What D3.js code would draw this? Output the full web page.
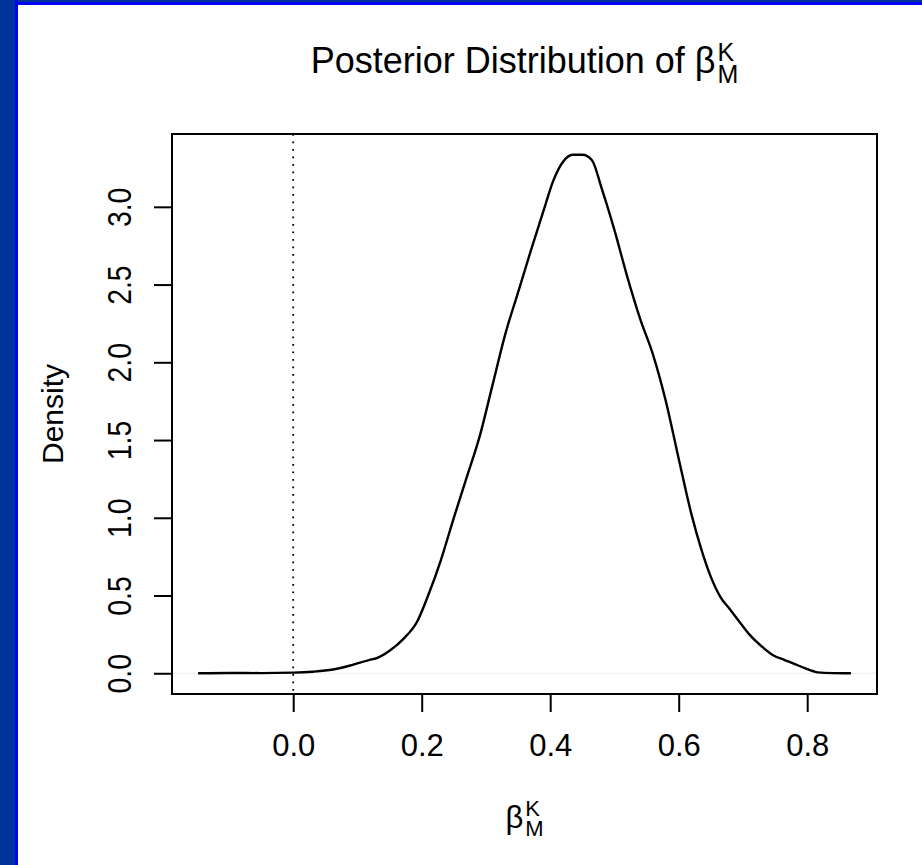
<!DOCTYPE html>
<html>
<head>
<meta charset="utf-8">
<script src="https://cdnjs.cloudflare.com/ajax/libs/d3/7.8.5/d3.min.js"></script>
<style>
  body { margin: 0; background: #ffffff; }
  svg text { font-family: "Liberation Sans", Arial, Helvetica, sans-serif; fill: #000; }
</style>
</head>
<body>
<div id="chart"></div>
<script>
// density estimate (x value, density)
var betaValues = [-0.148, -0.10, -0.05, 0.00, 0.03, 0.062, 0.089, 0.104, 0.118, 0.130, 0.151, 0.172, 0.193,
  0.210, 0.230, 0.250, 0.270, 0.290, 0.310, 0.330, 0.350, 0.370, 0.390, 0.405, 0.420, 0.435, 0.450,
  0.465, 0.480, 0.500, 0.520, 0.540, 0.560, 0.580, 0.600, 0.620, 0.635, 0.650, 0.665, 0.680, 0.693,
  0.711, 0.730, 0.747, 0.765, 0.778, 0.795, 0.816, 0.840, 0.868];
var densityValues = [0.000, 0.002, 0.001, 0.004, 0.010, 0.024, 0.050, 0.069, 0.085, 0.097, 0.148, 0.223, 0.333,
  0.50, 0.73, 1.00, 1.26, 1.52, 1.85, 2.18, 2.45, 2.72, 2.98, 3.17, 3.29, 3.335, 3.335,
  3.30, 3.12, 2.85, 2.55, 2.28, 2.05, 1.75, 1.38, 1.02, 0.80, 0.62, 0.49, 0.41, 0.34,
  0.245, 0.17, 0.116, 0.085, 0.064, 0.035, 0.006, 0.001, 0.000];
var xTicks = [0.0, 0.2, 0.4, 0.6, 0.8];
var yTicks = [0.0, 0.5, 1.0, 1.5, 2.0, 2.5, 3.0];
var refLine = 0;

var width = 922, height = 865;
var plotLeft = 172, plotRight = 877, plotTop = 134, plotBottom = 694;

var svg = d3.select("#chart").append("svg")
  .attr("width", width)
  .attr("height", height);

// slide frame
svg.append("rect").attr("x", 0).attr("y", 0).attr("width", width).attr("height", height).attr("fill", "#ffffff");
svg.append("rect").attr("x", 0).attr("y", 0).attr("width", width).attr("height", 5).attr("fill", "#0000ff");
svg.append("rect").attr("x", 0).attr("y", 0).attr("width", width).attr("height", 2).attr("fill", "#003399");
svg.append("rect").attr("x", 0).attr("y", 0).attr("width", 18).attr("height", height).attr("fill", "#0000ff");
svg.append("rect").attr("x", 0).attr("y", 0).attr("width", 15).attr("height", height).attr("fill", "#003399");

var points = betaValues.map(function(d, i) { return [d, densityValues[i]]; });

// R style 4% padding of the ranges
var xr = d3.extent(betaValues), xpad = (xr[1] - xr[0]) * 0.04;
var yr = [0, d3.max(densityValues)], ypad = (yr[1] - yr[0]) * 0.04;

var xScale = d3.scaleLinear()
  .domain([xr[0] - xpad, xr[1] + xpad])
  .range([plotLeft, plotRight]);
var yScale = d3.scaleLinear()
  .domain([yr[0] - ypad, yr[1] + ypad])
  .range([plotBottom, plotTop]);

// faint zero line
svg.append("line")
  .attr("x1", plotLeft).attr("x2", plotRight)
  .attr("y1", yScale(0)).attr("y2", yScale(0))
  .attr("stroke", "#ececec")
  .attr("stroke-width", 1);

// dotted reference line
svg.append("line")
  .attr("x1", xScale(refLine)).attr("x2", xScale(refLine))
  .attr("y1", plotTop).attr("y2", plotBottom)
  .attr("stroke", "#000")
  .attr("stroke-width", 1.8)
  .attr("stroke-dasharray", "1.8,5.7");

var line = d3.line()
  .x(function(d) { return xScale(d[0]); })
  .y(function(d) { return yScale(d[1]); })
  .curve(d3.curveMonotoneX);

svg.append("path")
  .datum(points)
  .attr("d", line)
  .attr("fill", "none")
  .attr("stroke", "#000")
  .attr("stroke-width", 2.4)
  .attr("stroke-linejoin", "round");

// axes
var xAxis = svg.append("g")
  .attr("transform", "translate(0," + plotBottom + ")")
  .call(d3.axisBottom(xScale).tickValues(xTicks).tickSize(18).tickPadding(22).tickFormat(d3.format(".1f")));
xAxis.select(".domain").remove();
xAxis.selectAll(".tick line").attr("stroke", "#000").attr("stroke-width", 2);
xAxis.selectAll("text").style("font-size", "31px").attr("fill", "#000");

var yAxis = svg.append("g")
  .attr("transform", "translate(" + plotLeft + ",0)")
  .call(d3.axisLeft(yScale).tickValues(yTicks).tickSize(18).tickFormat(d3.format(".1f")));
yAxis.select(".domain").remove();
yAxis.selectAll(".tick line").attr("stroke", "#000").attr("stroke-width", 2);
yAxis.selectAll("text")
  .style("font-size", "33px")
  .attr("fill", "#000")
  .attr("x", null)
  .attr("dy", null)
  .attr("text-anchor", "middle")
  .attr("transform", "translate(-41,0) rotate(-90) scale(0.86,1)");

// box
svg.append("rect")
  .attr("x", plotLeft).attr("y", plotTop)
  .attr("width", plotRight - plotLeft).attr("height", plotBottom - plotTop)
  .attr("fill", "none")
  .attr("stroke", "#000")
  .attr("stroke-width", 2);

// beta_M^K label, one text element with script tspans
function betaLabel(prefix, cx, baseY, size, scriptSize, supDy, subDy) {
  var t = svg.append("text")
    .attr("x", 0).attr("y", baseY)
    .style("font-size", size + "px");
  var main = t.append("tspan").text(prefix + "\u03B2");
  var w = main.node().getComputedTextLength();
  var sup = t.append("tspan")
    .attr("x", w + 2).attr("y", baseY + supDy)
    .style("font-size", scriptSize + "px")
    .text("K");
  var sub = t.append("tspan")
    .attr("x", w + 2).attr("y", baseY + subDy)
    .style("font-size", scriptSize + "px")
    .text("M");
  var total = w + 2 + Math.max(sup.node().getComputedTextLength(), sub.node().getComputedTextLength());
  t.attr("transform", "translate(" + (cx - total / 2) + ",0)");
}

var midX = (plotLeft + plotRight) / 2;
betaLabel("Posterior Distribution of ", midX, 73, 36, 25, -12, 10);
betaLabel("", midX, 828, 31, 22, -12, 8);

svg.append("text")
  .attr("transform", "translate(63," + ((plotTop + plotBottom) / 2) + ") rotate(-90)")
  .attr("text-anchor", "middle")
  .style("font-size", "30px")
  .text("Density");
</script>
</body>
</html>
